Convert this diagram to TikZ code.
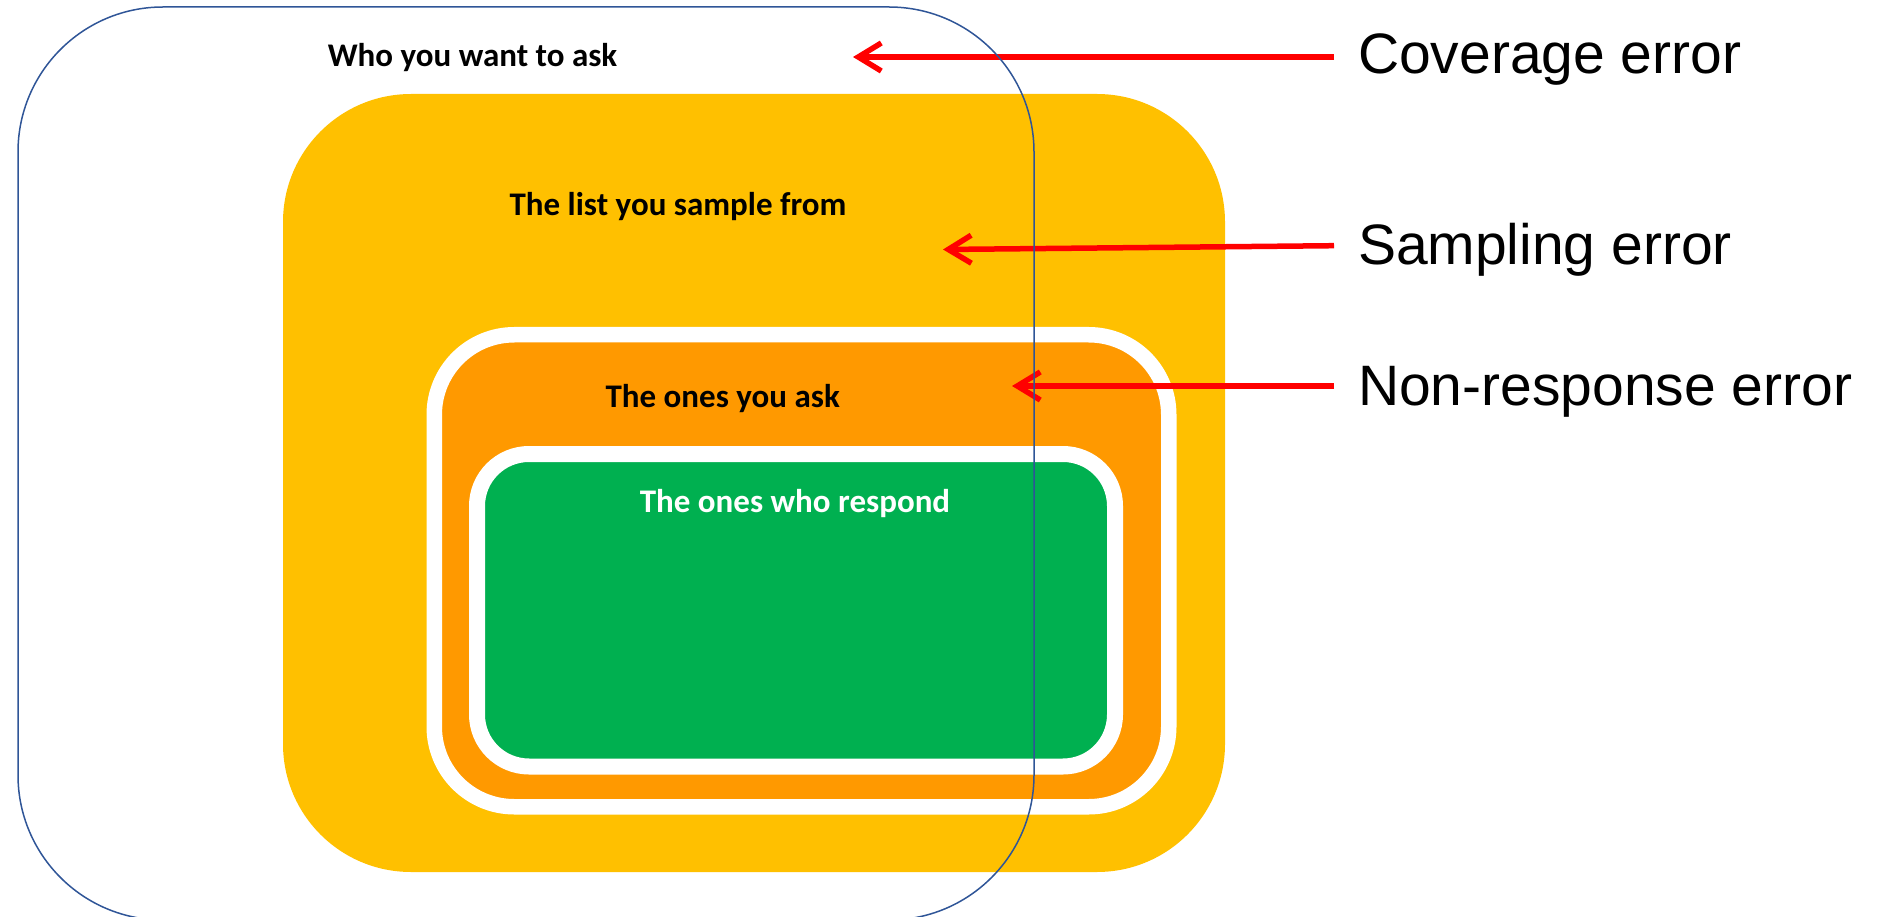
\documentclass[tikz,border=0pt]{standalone}
\usepackage{fontspec}
\newfontfamily\boxfont{Carlito}
\newfontfamily\errfont{Liberation Sans}
\usetikzlibrary{arrows.meta}
\definecolor{outline}{RGB}{47,85,151}
\definecolor{listyellow}{RGB}{255,192,0}
\definecolor{askorange}{RGB}{255,153,0}
\definecolor{respgreen}{RGB}{0,176,80}
\definecolor{errred}{RGB}{255,0,0}
\begin{document}
\begin{tikzpicture}[x=1pt,y=-1pt,
  region/.style={rectangle, inner sep=0pt, outer sep=0pt},
  boxlabel/.style={inner sep=0pt, anchor=base, font=\boxfont\bfseries\fontsize{33}{39}\selectfont},
  errlabel/.style={inner xsep=24pt, inner ysep=0pt, outer sep=0pt, anchor=base west, font=\errfont\fontsize{57}{68}\selectfont},
  errarrow/.style={draw=errred, line width=5.5pt, -{Straight Barb[length=23pt,width=28pt]}},
]
\useasboundingbox (0,0) rectangle (1883,917);
% regions
\node[region, fill=listyellow, rounded corners=128pt, minimum width=942pt, minimum height=778pt] (list) at (754,483) {};
\node[region, fill=askorange, draw=white, line width=15.5pt, rounded corners=80pt, minimum width=734.5pt, minimum height=472pt] (ask) at (801.5,570.75) {};
\node[region, fill=respgreen, draw=white, line width=16pt, rounded corners=52pt, minimum width=638pt, minimum height=312.5pt] (resp) at (796,610.25) {};
% region labels
\node[boxlabel] (wholbl) at (472.5,66.7) {Who you want to ask};
\node[boxlabel] (listlbl) at (678,216) {The list you sample from};
\node[boxlabel] (asklbl) at (722.75,407) {The ones you ask};
\node[boxlabel, text=white] (resplbl) at (795,512.5) {The ones who respond};
% error labels
\node[errlabel] (cov) at (1334,74) {Coverage error};
\node[errlabel] (samp) at (1334,265) {Sampling error};
\node[errlabel] (nonresp) at (1334,405) {Non-response error};
% arrow targets
\coordinate (covT) at (853,57);
\coordinate (sampT) at (943,249.5);
\coordinate (nonrespT) at (1012,386);
\draw[errarrow] ([yshift=17pt]cov.base west) -- (covT);
\draw[errarrow] ([yshift=19.3pt]samp.base west) -- (sampT);
\draw[errarrow] ([yshift=19pt]nonresp.base west) -- (nonrespT);
% outer population outline (its bottom edge lies just below the picture)
\node[region, draw=outline, line width=1.5pt, rounded corners=145pt, minimum width=1016pt, minimum height=913pt] (target) at (526,463.5) {};
\end{tikzpicture}
\end{document}
